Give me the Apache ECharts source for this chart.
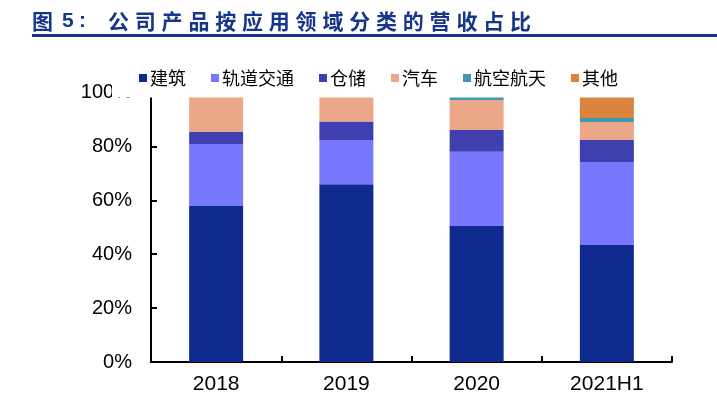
<!DOCTYPE html>
<html>
<head>
<meta charset="utf-8">
<script src="https://cdn.jsdelivr.net/npm/echarts@6/dist/echarts.min.js"></script>
<style>html,body{margin:0;padding:0;background:#fff;}#c{width:717px;height:395px;}</style>
</head>
<body>
<div id="c"></div>
<script>
const titleText = '图 5：公司产品按应用领域分类的营收占比';
const categories = ['2018', '2019', '2020', '2021H1'];
const seriesNames = ['建筑', '轨道交通', '仓储', '汽车', '航空航天', '其他'];
const jianzhu = [57.9, 66.0, 50.5, 43.4];
const guidao = [23.0, 16.4, 27.5, 30.8];
const cangchu = [4.4, 6.8, 8.1, 8.2];
const qiche = [14.7, 10.8, 11.1, 6.7];
const hangkong = [0, 0, 2.8, 1.4];
const qita = [0, 0, 0, 9.5];
const yTicks = [0, 20, 40, 60, 80, 100];

const colors = ['#0f2a8f', '#7878ff', '#3f3fb0', '#eca688', '#3f9ab0', '#dc843e'];
const values = [jianzhu, guidao, cangchu, qiche, hangkong, qita];

// spaced title via rich text fragments
const head = '{h|图}{n|5}{k|:}';
const rest = titleText.slice(4).split('').map(c => '{c|' + c + '}').join('');
const tStyle = {color: '#17358a', fontSize: 21, fontWeight: 'bold', fontFamily: 'Noto Sans CJK SC'};

const chart = echarts.init(document.getElementById('c'), null, {renderer: 'canvas'});
chart.setOption({
  animation: false,
  backgroundColor: '#fff',
  title: {
    text: head + rest,
    left: 27, top: 6,
    textStyle: Object.assign({}, tStyle, {
      rich: {
        h: Object.assign({}, tStyle, {width: 30}),
        n: Object.assign({}, tStyle, {width: 17, fontFamily: 'Liberation Sans', fontSize: 21}),
        k: Object.assign({}, tStyle, {width: 29, fontFamily: 'Liberation Sans', fontSize: 21}),
        c: Object.assign({}, tStyle, {width: 26.8})
      }
    })
  },
  graphic: [
    {type: 'line', z: 50, shape: {x1: 32, y1: 35.5, x2: 717, y2: 35.5}, style: {stroke: '#17358a', lineWidth: 3}},
    {type: 'rect', z: 50, shape: {x: 112, y: 42, width: 605, height: 55.5}, style: {fill: '#fff'}}
  ],
  legend: {
    z: 60,
    left: 134, top: 64,
    itemWidth: 8, itemHeight: 8, itemGap: 25,
    icon: 'rect',
    data: seriesNames,
    textStyle: {fontSize: 18, color: '#000', fontFamily: 'Noto Sans CJK SC', padding: [0, 0, 0, -2]}
  },
  grid: {left: 151, right: 45, top: 92.5, bottom: 33, containLabel: false},
  xAxis: {
    type: 'category', data: categories,
    axisLine: {lineStyle: {color: '#000', width: 2}},
    axisTick: {show: true, inside: true, length: 6, lineStyle: {color: '#000', width: 2}},
    axisLabel: {fontSize: 21, color: '#000', margin: 12, fontFamily: 'Liberation Sans'}
  },
  yAxis: {
    type: 'value', min: 0, max: 100, interval: 20,
    axisLine: {show: true, lineStyle: {color: '#000', width: 2}},
    axisTick: {show: true, inside: true, length: 6, lineStyle: {color: '#000', width: 2}},
    splitLine: {show: false},
    axisLabel: {fontSize: 20, color: '#000', margin: 19, fontFamily: 'Liberation Sans',
      formatter: v => yTicks.indexOf(v) >= 0 ? v + '%' : ''}
  },
  series: seriesNames.map((n, i) => ({
    name: n, type: 'bar', stack: 'total', barWidth: 54,
    itemStyle: {color: colors[i]},
    data: values[i]
  }))
});
</script>
</body>
</html>
